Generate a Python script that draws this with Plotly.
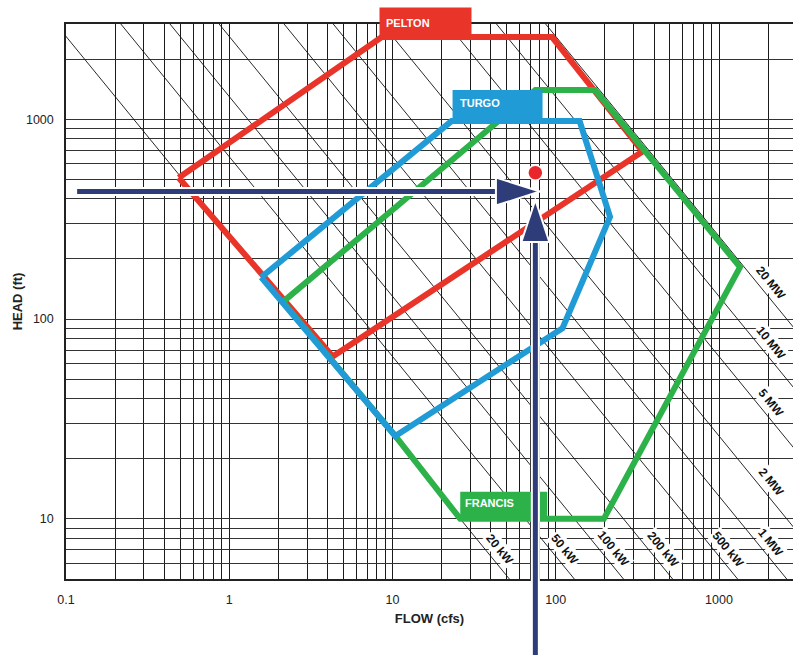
import math
import plotly.graph_objects as go

# ---------------------------------------------------------------- data
# Axis limits: flow in cfs (x), head in ft (y), both logarithmic
X_MIN, X_MAX = 0.1, 2840
Y_MIN, Y_MAX = 5, 3000

FLOW_TICKS = [0.1, 1, 10, 100, 1000]
FLOW_TICK_TEXT = ["0.1", "1", "10", "100", "1000"]
HEAD_TICKS = [10, 100, 1000]
HEAD_TICK_TEXT = ["10", "100", "1000"]

# Constant-power lines: P [kW] = Q [cfs] * H [ft] / 13
FT_CFS_PER_KW = 13.0
POWER_KW = [20, 50, 100, 200, 500, 1000, 2000, 5000, 10000, 20000]
POWER_LABELS = ["20 kW", "50 kW", "100 kW", "200 kW", "500 kW",
                "1 MW", "2 MW", "5 MW", "10 MW", "20 MW"]

# Turbine application envelopes (flow, head)
PELTON_Q = [0.49, 8.6, 95, 340, 4.3, 0.49]
PELTON_H = [510, 2580, 2580, 690, 65, 510]
TURGO_Q = [1.57, 23, 140, 215, 110, 10.4, 1.57]
TURGO_H = [162, 980, 980, 325, 90, 26, 162]
FRANCIS_Q = [2.13, 75, 174, 1345, 197, 26, 10.4, 2.13]
FRANCIS_H = [122, 1400, 1400, 182, 10, 10, 26, 122]

# Site design point and the two reading arrows
SITE_Q = 75
SITE_DOT_H = 540
H_ARROW_H = 435
H_ARROW_START_Q = 0.117
H_ARROW_TIP_Q = 80
V_ARROW_TIP_H = 395

# ---------------------------------------------------------------- style
W, H = 793, 655
M_L, M_R, M_T, M_B = 66, 0, 24, 76
PLOT_W = W - M_L - M_R
PLOT_H = H - M_T - M_B
PX_DEC_X = PLOT_W / (math.log10(X_MAX) - math.log10(X_MIN))
PX_DEC_Y = PLOT_H / (math.log10(Y_MAX) - math.log10(Y_MIN))
LINE_ANGLE = math.degrees(math.atan(PX_DEC_Y / PX_DEC_X))

RED = "#e9342a"
BLUE = "#219bd5"
GREEN = "#2db24a"
NAVY = "#2e3d7a"
FONT = "Liberation Sans, Arial, sans-serif"

fig = go.Figure()

# constant-power lines
for p in POWER_KW:
    qs = [X_MIN / 2, X_MAX * 2]
    fig.add_trace(go.Scatter(
        x=qs, y=[p * FT_CFS_PER_KW / q for q in qs], mode="lines",
        line=dict(color="#111111", width=0.9), hoverinfo="skip", showlegend=False))

# turbine envelopes
for qs, hs, col in [(PELTON_Q, PELTON_H, RED),
                    (FRANCIS_Q, FRANCIS_H, GREEN),
                    (TURGO_Q, TURGO_H, BLUE)]:
    fig.add_trace(go.Scatter(
        x=qs, y=hs, mode="lines", line=dict(color=col, width=6),
        hoverinfo="skip", showlegend=False))

# design point
fig.add_trace(go.Scatter(
    x=[SITE_Q], y=[SITE_DOT_H], mode="markers",
    marker=dict(color="#e8262b", size=15, line=dict(color="white", width=1.5)),
    hoverinfo="skip", showlegend=False))

annotations = []

# power-line labels, set just above/right of each line
shift = 11
dx = shift * math.sin(math.radians(LINE_ANGLE))
dy = shift * math.cos(math.radians(LINE_ANGLE))
for p, lab in zip(POWER_KW, POWER_LABELS):
    if p < 1000:
        hh = 6.5
        qq = p * FT_CFS_PER_KW / hh
    else:
        qq = 1850
        hh = p * FT_CFS_PER_KW / qq
    annotations.append(dict(
        x=math.log10(qq), y=math.log10(hh), xref="x", yref="y",
        text="<b>%s</b>" % lab, showarrow=False, textangle=LINE_ANGLE,
        xshift=dx, yshift=dy, bgcolor="white", borderpad=1,
        font=dict(family=FONT, size=12, color="#111111")))

shapes = []

# TURGO and FRANCIS name tags (pixel-sized boxes anchored to the envelope)
shapes.append(dict(type="rect", xref="x", yref="y",
                   xsizemode="pixel", ysizemode="pixel",
                   xanchor=TURGO_Q[1], yanchor=TURGO_H[1],
                   x0=1, x1=91, y0=0, y1=31,
                   fillcolor=BLUE, line=dict(width=0), layer="above"))
shapes.append(dict(type="rect", xref="x", yref="y",
                   xsizemode="pixel", ysizemode="pixel",
                   xanchor=FRANCIS_Q[5], yanchor=FRANCIS_H[5],
                   x0=-4, x1=87, y0=-3, y1=27,
                   fillcolor=GREEN, line=dict(width=0), layer="above"))

# PELTON tag sits across the top frame
annotations.append(dict(
    x=math.log10(PELTON_Q[1]), y=math.log10(PELTON_H[1]), xref="x", yref="y",
    xanchor="left", yanchor="bottom", xshift=-3, yshift=-1,
    text="<b>PELTON</b>", showarrow=False, align="left", valign="middle",
    width=79, height=17, borderpad=6, bgcolor=RED,
    font=dict(family=FONT, size=11, color="white")))
annotations.append(dict(
    x=math.log10(TURGO_Q[1]), y=math.log10(TURGO_H[1]), xref="x", yref="y",
    xanchor="left", yanchor="middle", xshift=6, yshift=18,
    text="<b>TURGO</b>", showarrow=False,
    font=dict(family=FONT, size=11, color="white")))
annotations.append(dict(
    x=math.log10(FRANCIS_Q[5]), y=math.log10(FRANCIS_H[5]), xref="x", yref="y",
    xanchor="left", yanchor="middle", xshift=3, yshift=16,
    text="<b>FRANCIS</b>", showarrow=False,
    font=dict(family=FONT, size=11, color="white")))

# horizontal arrow (line ends a little inside the head)
HEAD_LEN, HEAD_HALF = 44, 14
h_end_q = H_ARROW_TIP_Q / 10 ** (38 / PX_DEC_X)
for col, wd in [("white", 9), (NAVY, 5)]:
    shapes.append(dict(type="line", xref="x", yref="y",
                       x0=H_ARROW_START_Q, x1=h_end_q, y0=H_ARROW_H, y1=H_ARROW_H,
                       line=dict(color=col, width=wd), layer="above"))
shapes.append(dict(type="path", xref="x", yref="y",
                   xsizemode="pixel", ysizemode="pixel",
                   xanchor=H_ARROW_TIP_Q, yanchor=H_ARROW_H,
                   path="M 0 0 L %d %d L %d %d Z" % (-HEAD_LEN, HEAD_HALF, -HEAD_LEN, -HEAD_HALF),
                   fillcolor=NAVY, line=dict(color="white", width=2), layer="above"))

# vertical arrow: inside the plot, then continued below the frame
v_end_h = V_ARROW_TIP_H / 10 ** (38 / PX_DEC_Y)
for col, wd in [("white", 9), (NAVY, 5)]:
    shapes.append(dict(type="line", xref="x", yref="y",
                       x0=SITE_Q, x1=SITE_Q, y0=Y_MIN, y1=v_end_h,
                       line=dict(color=col, width=wd), layer="above"))
    shapes.append(dict(type="line", xref="x", yref="paper",
                       x0=SITE_Q, x1=SITE_Q, y0=-0.3, y1=0,
                       line=dict(color=col, width=wd), layer="above"))
shapes.append(dict(type="path", xref="x", yref="y",
                   xsizemode="pixel", ysizemode="pixel",
                   xanchor=SITE_Q, yanchor=V_ARROW_TIP_H,
                   path="M 0 0 L %d %d L %d %d Z" % (-HEAD_HALF, -HEAD_LEN + 2, HEAD_HALF, -HEAD_LEN + 2),
                   fillcolor=NAVY, line=dict(color="white", width=2), layer="above"))


def grid_values(lo, hi):
    vals = []
    for e in range(-2, 5):
        for m in range(1, 10):
            v = round(m * 10 ** e, 6)
            if lo <= v <= hi:
                vals.append(v)
    return vals


xgrid = grid_values(X_MIN, X_MAX)
ygrid = grid_values(Y_MIN, Y_MAX)
xtext = [FLOW_TICK_TEXT[FLOW_TICKS.index(v)] if v in FLOW_TICKS else "" for v in xgrid]
ytext = [HEAD_TICK_TEXT[HEAD_TICKS.index(v)] if v in HEAD_TICKS else "" for v in ygrid]

fig.update_layout(
    width=W, height=H,
    margin=dict(l=M_L, r=M_R, t=M_T, b=M_B),
    paper_bgcolor="white", plot_bgcolor="white",
    font=dict(family=FONT, color="#222222"),
    showlegend=False,
    shapes=shapes,
    annotations=annotations,
    xaxis=dict(
        type="log", range=[math.log10(X_MIN), math.log10(X_MAX)],
        tickmode="array", tickvals=xgrid, ticktext=xtext, ticks="",
        ticklabelstandoff=8, tickfont=dict(size=12.5, color="#222222"),
        showgrid=True, gridcolor="#1a1a1a", gridwidth=1,
        showline=True, linecolor="#222222", linewidth=1.5, mirror=True,
        zeroline=False,
        title=dict(text="<b>FLOW (cfs)</b>", standoff=8,
                   font=dict(size=13, color="#222222")),
    ),
    yaxis=dict(
        type="log", range=[math.log10(Y_MIN), math.log10(Y_MAX)],
        tickmode="array", tickvals=ygrid, ticktext=ytext, ticks="",
        ticklabelstandoff=8, tickfont=dict(size=12.5, color="#222222"),
        showgrid=True, gridcolor="#333333", gridwidth=1.4,
        showline=True, linecolor="#222222", linewidth=1.5, mirror=False,
        zeroline=False,
        title=dict(text="<b>HEAD (ft)</b>", standoff=0,
                   font=dict(size=13, color="#222222")),
    ),
)

fig.write_html("out.html")
